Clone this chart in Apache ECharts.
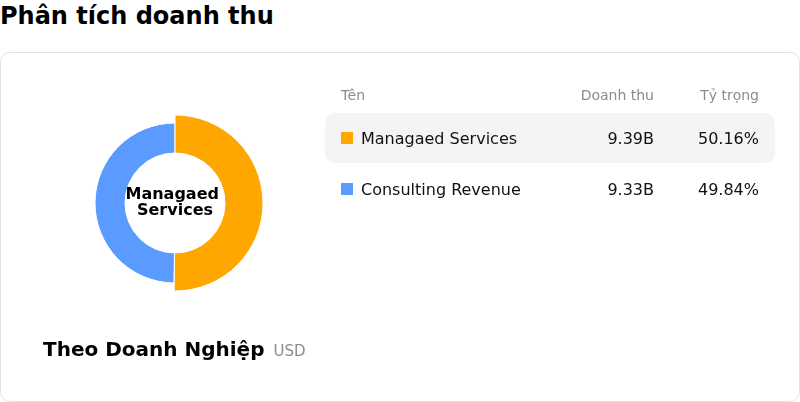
<!DOCTYPE html>
<html>
<head>
<meta charset="utf-8">
<script src="https://cdn.jsdelivr.net/npm/echarts@6/dist/echarts.min.js"></script>
<style>
  body { margin: 0; font-family: "DejaVu Sans", sans-serif; background: #fff; }
  #page { position: relative; width: 800px; height: 402px; overflow: hidden; }
  #headline { position: absolute; left: 0; top: 0; margin: 0; font-size: 24px; font-weight: bold; line-height: 32px; color: #000; }
  #card { position: absolute; left: 0; top: 52px; width: 798px; height: 348px; border: 1px solid #e2e0ea; border-radius: 10px; }
  #donut { position: absolute; left: 0; top: 0; width: 800px; height: 402px; }
  #table { position: absolute; left: 325px; top: 77px; width: 450px; }
  .row { display: flex; align-items: center; height: 50px; margin-bottom: 1px; border-radius: 10px; font-size: 16px; color: #111; }
  .row.head { height: 36px; font-size: 14px; color: #8c8c8c; margin-bottom: 0; }
  .row.active { background: #f4f4f4; }
  .c-name { flex: 1; padding-left: 16px; display: flex; align-items: center; }
  .c-val { width: 120px; text-align: right; }
  .c-pct { width: 105px; text-align: right; padding-right: 16px; }
  .dot { width: 12px; height: 12px; margin-right: 8px; }
</style>
</head>
<body>
<div id="page">
  <h2 id="headline">Phân tích doanh thu</h2>
  <div id="card"></div>
  <div id="donut"></div>
  <div id="table"></div>
</div>
<script>
// dữ liệu
var names = ['Managaed Services', 'Consulting Revenue'];
var revenue = [9.39, 9.33];          // tỷ USD
var colors = ['#ffa600', '#5b9bff'];
var headers = ['Tên', 'Doanh thu', 'Tỷ trọng'];
var activeIndex = 0;

var total = revenue.reduce(function (a, b) { return a + b; }, 0);

// bảng bên phải
var html = '<div class="row head"><div class="c-name">' + headers[0] + '</div>' +
    '<div class="c-val">' + headers[1] + '</div><div class="c-pct">' + headers[2] + '</div></div>';
for (let i = 0; i < names.length; i++) {
    html += '<div class="row' + (i === activeIndex ? ' active' : '') + '">' +
        '<div class="c-name"><span class="dot" style="background:' + colors[i] + '"></span>' + names[i] + '</div>' +
        '<div class="c-val">' + revenue[i].toFixed(2) + 'B</div>' +
        '<div class="c-pct">' + (revenue[i] / total * 100).toFixed(2) + '%</div></div>';
}
document.getElementById('table').innerHTML = html;

var chartDom = document.getElementById('donut');
var myChart = echarts.init(chartDom);
var option;

option = {
    animation: false,
    title: {
        left: 38,
        top: 336,
        text: '{a|Theo Doanh Nghiệp}{b|USD}',
        textStyle: {
            rich: {
                a: { fontSize: 20, fontWeight: 'bold', color: '#000', fontFamily: 'DejaVu Sans' },
                b: { fontSize: 15, fontWeight: 'normal', color: '#8c8c8c', fontFamily: 'DejaVu Sans', padding: [2, 0, 0, 9] }
            }
        }
    },
    color: colors,
    series: [
        {
            type: 'pie',
            center: [175, 203],
            radius: [50, 80],
            startAngle: 90,
            itemStyle: {
                borderColor: '#fff',
                borderWidth: 1
            },
            label: {
                show: false,
                position: 'center'
            },
            labelLine: { show: false },
            emphasis: {
                scale: true,
                scaleSize: 8,
                label: {
                    show: true,
                    fontSize: 16,
                    fontWeight: 'bold',
                    lineHeight: 16,
                    color: '#000',
                    fontFamily: 'DejaVu Sans',
                    width: 100,
                    overflow: 'break'
                }
            },
            data: names.map(function (n, i) {
                return {
                    name: n,
                    value: revenue[i],
                    itemStyle: { color: colors[i] },
                    emphasis: { itemStyle: { color: colors[i] } }
                };
            })
        }
    ]
};
option && myChart.setOption(option);
myChart.dispatchAction({ type: 'highlight', seriesIndex: 0, dataIndex: activeIndex });
</script>
</body>
</html>
